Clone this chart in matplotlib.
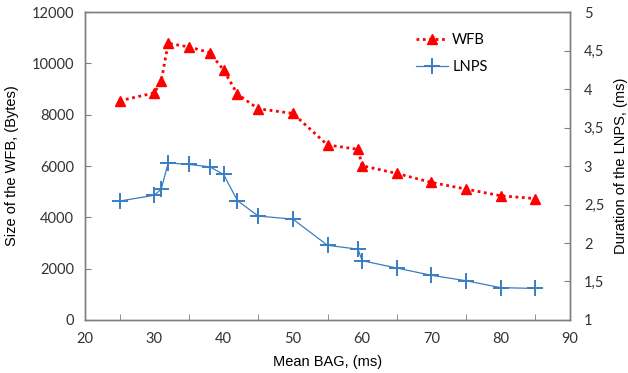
import matplotlib
matplotlib.use("Agg")
import matplotlib.pyplot as plt
from matplotlib.ticker import MultipleLocator, FuncFormatter

# data
bag_wfb = [25, 30, 31, 32, 35, 38, 40, 42, 45, 50, 55, 59.4, 60, 65, 70, 75, 80, 85]
wfb_size = [8540, 8850, 9310, 10780, 10640, 10420, 9740, 8800, 8230, 8050,
            6820, 6650, 6010, 5710, 5360, 5100, 4840, 4730]

bag_lnps = [25, 30, 31, 32, 35, 38, 40, 42, 45, 50, 55, 59.4, 60, 65, 70, 75, 80, 85]
lnps_dur = [2.545, 2.62, 2.70, 3.04, 3.02, 2.99, 2.89, 2.55, 2.35, 2.31,
            1.97, 1.92, 1.77, 1.675, 1.58, 1.51, 1.42, 1.41]

tick_font = "Lato"
label_font = "Liberation Sans"
spine_col = "#7f7f7f"

fig = plt.figure(figsize=(6.28, 3.73), dpi=100)
ax = fig.add_axes([0.1354, 0.1421, 0.7722, 0.8257])
ax2 = ax.twinx()

l1, = ax.plot(bag_wfb, wfb_size, color="#ff0000", linestyle=(0, (1, 1.3)), linewidth=2,
              marker="^", markersize=7, label="WFB")
l2, = ax2.plot(bag_lnps, lnps_dur, color="#3a7dc2", linewidth=0.9,
               marker="+", markersize=11, markeredgewidth=1.4, label="LNPS")

ax.set_xlim(20, 90)
ax.set_ylim(0, 12000)
ax2.set_ylim(1, 5)
ax.xaxis.set_major_locator(MultipleLocator(10))
ax.xaxis.set_minor_locator(MultipleLocator(5))
ax.yaxis.set_major_locator(MultipleLocator(2000))
ax2.yaxis.set_major_locator(MultipleLocator(0.5))
ax2.yaxis.set_major_formatter(FuncFormatter(lambda v, p: ("%g" % v).replace(".", ",")))

for a in (ax, ax2):
    for s in a.spines.values():
        s.set_color(spine_col)
        s.set_linewidth(1.0)
ax.tick_params(axis="x", which="major", length=0, pad=9, labelsize=10.5, colors="#333333")
ax.tick_params(axis="x", which="minor", direction="in", length=4, color=spine_col)
ax.tick_params(axis="y", direction="in", length=4, color=spine_col, pad=8, labelsize=10.5,
               labelcolor="#333333")
ax2.tick_params(axis="y", direction="in", length=4, color=spine_col, pad=10, labelsize=10.5,
                labelcolor="#333333")
for lab in ax.get_xticklabels() + ax.get_yticklabels() + ax2.get_yticklabels():
    lab.set_fontfamily(tick_font)

ax.set_xlabel("Mean BAG, (ms)", fontsize=10.5, fontfamily=label_font, labelpad=6)
ax.set_ylabel("Size of the WFB, (Bytes)", fontsize=10.5, fontfamily=label_font, labelpad=9)
ax2.set_ylabel("Duration of the LNPS, (ms)", fontsize=10.5, fontfamily=label_font, labelpad=7)

leg = ax.legend(handles=[l1, l2], loc="upper left", bbox_to_anchor=(0.655, 0.975),
                frameon=False, prop={"family": tick_font, "size": 10.5},
                handlelength=2.2, labelspacing=0.9, handletextpad=0.3)

fig.savefig("out.png", dpi=100)
